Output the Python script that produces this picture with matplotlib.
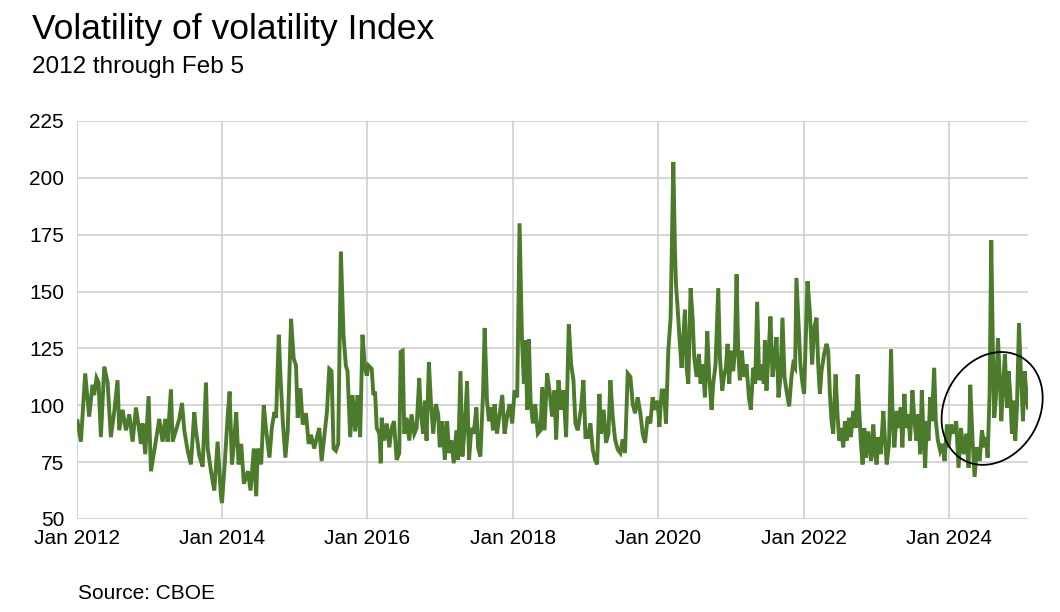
import matplotlib.pyplot as plt
from matplotlib.patches import Ellipse

plt.rcParams['font.family'] = ['Liberation Sans', 'DejaVu Sans']

# VVIX (fractional year, index level)
t = [
    2012.014, 2012.060, 2012.119, 2012.174, 2012.220, 2012.243, 2012.275, 2012.303, 2012.335, 2012.381,
    2012.427, 2012.472, 2012.518, 2012.564, 2012.587, 2012.633, 2012.679, 2012.725, 2012.771, 2012.817,
    2012.862, 2012.885, 2012.908, 2012.945, 2012.991,
    2013.023, 2013.069, 2013.138, 2013.183, 2013.220, 2013.252, 2013.298, 2013.321, 2013.367, 2013.413,
    2013.450, 2013.482, 2013.528, 2013.573, 2013.619, 2013.642, 2013.688, 2013.734, 2013.780, 2013.803,
    2013.849, 2013.894, 2013.940, 2013.986,
    2014.000, 2014.037, 2014.082, 2014.105, 2014.137, 2014.164, 2014.196, 2014.228, 2014.265, 2014.301,
    2014.356, 2014.393, 2014.438, 2014.470, 2014.493, 2014.539, 2014.575, 2014.607, 2014.653, 2014.685,
    2014.721, 2014.744, 2014.781, 2014.804, 2014.836, 2014.872, 2014.904, 2014.950, 2014.986,
    2015.018, 2015.041, 2015.078, 2015.110, 2015.155, 2015.192, 2015.224, 2015.269, 2015.306, 2015.338,
    2015.370, 2015.406, 2015.443, 2015.475, 2015.507, 2015.534, 2015.566, 2015.598, 2015.635, 2015.671,
    2015.703, 2015.726, 2015.763, 2015.795, 2015.831, 2015.863, 2015.900, 2015.932, 2015.963, 2015.991,
    2016.014, 2016.059, 2016.082, 2016.105, 2016.128, 2016.164, 2016.183, 2016.196, 2016.228, 2016.265,
    2016.301, 2016.333, 2016.365, 2016.402, 2016.438, 2016.457, 2016.484, 2016.507, 2016.539, 2016.575,
    2016.607, 2016.644, 2016.676, 2016.712, 2016.735, 2016.767, 2016.790, 2016.813, 2016.845, 2016.872,
    2016.904, 2016.941, 2016.973, 2016.995,
    2017.032, 2017.064, 2017.096, 2017.123, 2017.155, 2017.187, 2017.224, 2017.247, 2017.279, 2017.306,
    2017.338, 2017.370, 2017.397, 2017.429, 2017.461, 2017.498, 2017.521, 2017.553, 2017.589, 2017.612,
    2017.644, 2017.671, 2017.703, 2017.726, 2017.749, 2017.781, 2017.817, 2017.854, 2017.886, 2017.918,
    2017.954, 2017.991,
    2018.023, 2018.059, 2018.092, 2018.124, 2018.151, 2018.174, 2018.197, 2018.220, 2018.243, 2018.275,
    2018.307, 2018.343, 2018.380, 2018.403, 2018.435, 2018.471, 2018.503, 2018.540, 2018.572, 2018.595,
    2018.627, 2018.664, 2018.696, 2018.732, 2018.769, 2018.801, 2018.833, 2018.860, 2018.892, 2018.938,
    2018.970, 2018.998,
    2019.030, 2019.066, 2019.098, 2019.130, 2019.158, 2019.190, 2019.213, 2019.249, 2019.281, 2019.314,
    2019.341, 2019.373, 2019.405, 2019.442, 2019.478, 2019.510, 2019.542, 2019.579, 2019.616, 2019.648,
    2019.680, 2019.716, 2019.753, 2019.785, 2019.817, 2019.854, 2019.890, 2019.922, 2019.954, 2019.991,
    2020.014, 2020.046, 2020.078, 2020.105, 2020.137, 2020.169, 2020.206, 2020.229, 2020.243, 2020.265,
    2020.288, 2020.320, 2020.343, 2020.366, 2020.389, 2020.412, 2020.444, 2020.471, 2020.494, 2020.526,
    2020.558, 2020.581, 2020.609, 2020.641, 2020.673, 2020.700, 2020.732, 2020.755, 2020.787, 2020.824,
    2020.847, 2020.879, 2020.902, 2020.929, 2020.952, 2020.975, 2020.998,
    2021.030, 2021.053, 2021.076, 2021.098, 2021.121, 2021.149, 2021.176, 2021.213, 2021.245, 2021.272,
    2021.304, 2021.332, 2021.359, 2021.387, 2021.419, 2021.451, 2021.465, 2021.487, 2021.515, 2021.542,
    2021.570, 2021.597, 2021.625, 2021.652, 2021.680, 2021.707, 2021.735, 2021.762, 2021.799, 2021.831,
    2021.854, 2021.881, 2021.899, 2021.927, 2021.954, 2021.982,
    2022.005, 2022.023, 2022.051, 2022.083, 2022.115, 2022.143, 2022.175, 2022.198, 2022.221, 2022.244,
    2022.280, 2022.313, 2022.336, 2022.359, 2022.382, 2022.405, 2022.437, 2022.464, 2022.487, 2022.510,
    2022.543, 2022.566, 2022.589, 2022.621, 2022.648, 2022.680, 2022.713, 2022.740, 2022.763, 2022.786,
    2022.809, 2022.832, 2022.855, 2022.887, 2022.924, 2022.956, 2022.979,
    2023.002, 2023.025, 2023.057, 2023.094, 2023.117, 2023.140, 2023.172, 2023.200, 2023.223, 2023.246,
    2023.278, 2023.301, 2023.333, 2023.356, 2023.384, 2023.407, 2023.439, 2023.462, 2023.494, 2023.522,
    2023.549, 2023.577, 2023.600, 2023.623, 2023.646, 2023.669, 2023.692, 2023.715, 2023.738, 2023.761,
    2023.793, 2023.816, 2023.844, 2023.876, 2023.908, 2023.936, 2023.968, 2023.991,
    2024.023, 2024.060, 2024.096, 2024.128, 2024.161, 2024.197, 2024.234, 2024.266, 2024.289, 2024.321,
    2024.349, 2024.381, 2024.417, 2024.450, 2024.482, 2024.509, 2024.528, 2024.555, 2024.578, 2024.601,
    2024.619, 2024.642, 2024.670, 2024.693, 2024.716, 2024.739, 2024.766, 2024.794, 2024.817, 2024.839,
    2024.862, 2024.885, 2024.908, 2024.931, 2024.959, 2024.986,
    2025.014, 2025.037, 2025.069, 2025.083,
]
vvix = [
    93, 84, 114, 95, 109, 104.5, 112, 110, 86, 117,
    110, 86, 97, 111, 89, 98, 89, 96, 84, 99,
    89, 83, 92, 78.5, 104,
    71, 80, 94, 84, 94, 84, 107, 84, 89, 94,
    101, 89, 80, 74, 97, 89, 78, 73, 110, 81,
    71, 62.5, 84, 60,
    57, 74, 97, 106, 74, 83, 97, 74, 83, 65.5,
    71, 62.5, 81, 60, 81, 74, 100, 89, 77, 90,
    97, 94.5, 131, 113, 93, 77, 89, 138, 120.5,
    117.5, 94.5, 107.5, 91.5, 96.5, 83, 87, 81, 86, 90,
    75.5, 86, 97, 116, 115, 81, 80, 83, 167.5, 131,
    117.5, 115, 86, 104.5, 88.5, 104.5, 86, 131, 117.5, 113,
    117.5, 116, 104.5, 106, 90, 87.5, 74.5, 94.5, 84.5, 92,
    81.5, 90, 93, 76, 79, 123.5, 124, 87.5, 94.5, 84.5,
    96, 87.5, 90, 112, 96, 87.5, 102, 84.5, 119, 102,
    87.5, 100.5, 96, 81.5,
    93, 76, 93, 79, 84.5, 74.5, 89, 76, 115, 77.5,
    90, 110.5, 76, 90, 87.5, 99, 81.5, 77.5, 104.5, 134,
    102, 93, 99, 89, 100.5, 87.5, 96, 104.5, 87.5, 94.5,
    100.5, 92,
    106.5, 103.5, 180, 130, 109.5, 128.5, 98, 129, 102, 92,
    100.5, 87.5, 89, 108, 89, 114, 106.5, 95, 106.5, 85,
    111, 98, 106.5, 86, 135.5, 118, 111, 92, 89, 99,
    111, 86,
    86, 92, 80.5, 76, 74, 105, 87.5, 98, 83.5, 87.5,
    111, 95, 85, 80.5, 79, 85, 79, 114, 112.5, 100.5,
    96.5, 103.5, 96.5, 87.5, 83.5, 95, 92, 103.5, 98, 102,
    90.5, 106.5, 106.5, 92, 124, 138.5, 207, 167.5, 153, 143,
    131, 116.5, 130, 142, 116.5, 109.5, 151.5, 138.5, 121, 112.5,
    122.5, 109.5, 118, 103.5, 132.5, 112.5, 98, 109.5, 118, 151.5,
    121, 106.5, 112.5, 116.5, 127, 109.5, 124,
    115, 124, 157.5, 124, 111, 124, 112.5, 118, 103.5, 98,
    116.5, 109.5, 145.5, 111, 118, 109.5, 128.5, 106.5, 122.5, 139,
    112.5, 119.5, 130, 103.5, 112.5, 138.5, 112.5, 106.5, 99.5, 112.5,
    118, 116.5, 156, 137, 118, 109.5,
    105, 124, 154.5, 141.5, 118, 134, 138.5, 118, 105, 115,
    122.5, 127, 124, 105, 93, 87.5, 113.5, 96, 84.5, 90,
    81.5, 93, 84.5, 94.5, 86, 97.5, 90, 113.5, 97.5, 83,
    74, 90, 77, 88.5, 75.5, 91.5, 78.5,
    74, 86, 78.5, 97.5, 84.5, 74, 83, 124.5, 93, 81.5,
    97.5, 90, 99, 81.5, 105, 90, 96, 84.5, 106.5, 93,
    84.5, 96, 78.5, 106.5, 87.5, 72.5, 93, 84.5, 103.5, 93,
    116.5, 93, 84.5, 80, 83, 75.5, 91.5, 81.5,
    91.5, 87.5, 93, 72.5, 90, 78.5, 87.5, 72.5, 109, 84.5,
    68.5, 81.5, 75.5, 89, 81.5, 86, 77, 105, 172.5, 122.5,
    94.5, 103.5, 129.5, 113.5, 93, 107.5, 122.5, 99, 115, 105,
    87.5, 102, 84.5, 99, 136, 113.5,
    93, 115, 102, 99,
]

y_ticks = [50, 75, 100, 125, 150, 175, 200, 225]
x_ticks = [2012, 2014, 2016, 2018, 2020, 2022, 2024]
x_labels = ["Jan 2012", "Jan 2014", "Jan 2016", "Jan 2018", "Jan 2020", "Jan 2022", "Jan 2024"]

fig = plt.figure(figsize=(10.6, 6.12), dpi=100)
ax = fig.add_axes([0.0722, 0.152, 0.8976, 0.6503])

ax.plot(t, vvix, color='#4b7b2b', lw=2.8, solid_joinstyle='miter', zorder=3)

ax.set_xlim(2012, t[-1])
ax.set_ylim(50, 225)
ax.set_yticks(y_ticks)
ax.set_xticks(x_ticks)
ax.set_xticklabels(x_labels)
ax.grid(True, color='#cccccc', lw=1.1)
ax.set_axisbelow(True)
for s in ax.spines.values():
    s.set_visible(False)
ax.tick_params(axis='both', length=0, labelsize=15, colors='black')
ax.tick_params(axis='y', pad=9)
ax.tick_params(axis='x', pad=7)

# circle drawn round the latest stretch
fig.canvas.draw()
cx, cy = fig.dpi_scale_trans.inverted().transform(ax.transData.transform((2024.59, 98.6)))
ell = Ellipse((cx, cy), 1.18, 0.95, angle=60.4, transform=fig.dpi_scale_trans,
              fill=False, edgecolor='black', lw=1.3, zorder=4, clip_on=False)
fig.add_artist(ell)

fig.text(0.030, 0.9358, "Volatility of volatility Index", fontsize=25.5, va='baseline')
fig.text(0.030, 0.8812, "2012 through Feb 5", fontsize=17.5, va='baseline')
fig.text(0.0735, 0.0212, "Source: CBOE", fontsize=15, va='baseline')

fig.savefig("out.png", dpi=100)
